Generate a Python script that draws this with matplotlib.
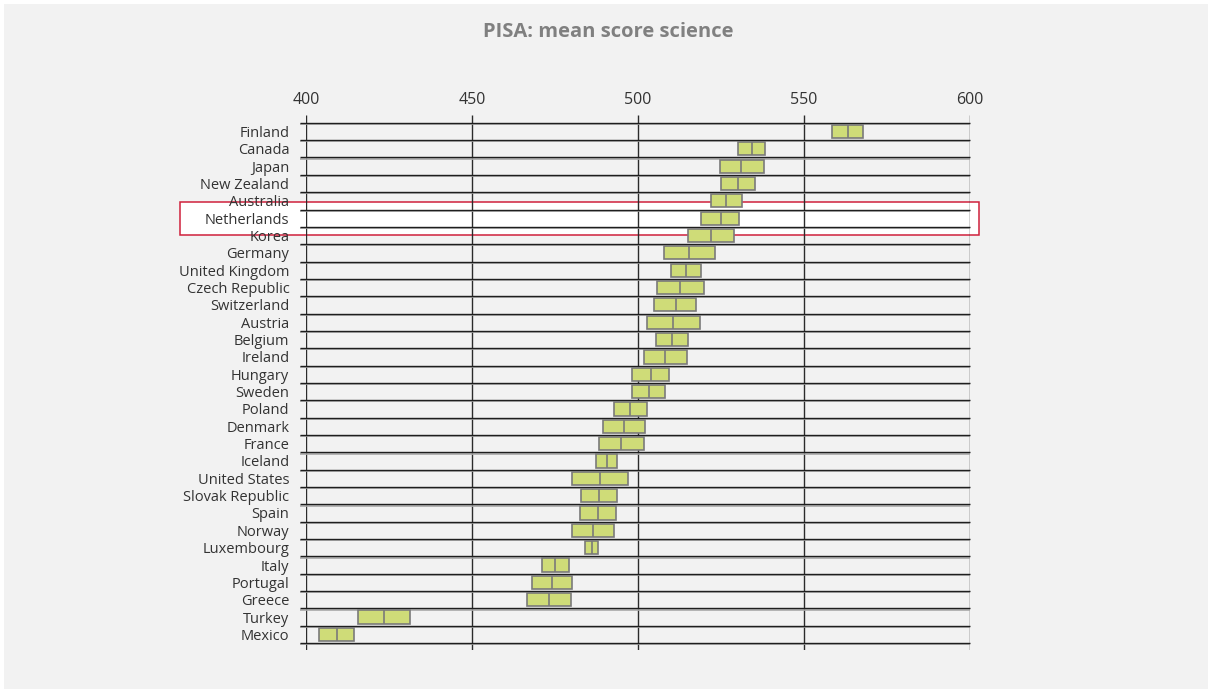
import matplotlib.pyplot as plt
from matplotlib.patches import Rectangle

COUNTRIES = [
    "Finland", "Canada", "Japan", "New Zealand", "Australia", "Netherlands",
    "Korea", "Germany", "United Kingdom", "Czech Republic", "Switzerland",
    "Austria", "Belgium", "Ireland", "Hungary", "Sweden", "Poland", "Denmark",
    "France", "Iceland", "United States", "Slovak Republic", "Spain", "Norway",
    "Luxembourg", "Italy", "Portugal", "Greece", "Turkey", "Mexico",
]
LOW = [558.5, 530.1, 524.6, 524.9, 522.0, 519.0, 515.2, 507.8, 510.0, 505.6,
       504.9, 502.7, 505.3, 501.8, 498.2, 498.2, 492.8, 489.6, 488.2, 487.2,
       480.2, 482.9, 482.6, 480.1, 483.9, 471.1, 468.1, 466.7, 415.8, 403.8]
MEAN = [563.3, 534.3, 531.1, 530.1, 526.6, 524.9, 521.9, 515.5, 514.5, 512.8,
        511.3, 510.4, 510.2, 508.1, 503.8, 503.2, 497.6, 495.9, 495.0, 490.6,
        488.5, 488.4, 488.0, 486.3, 486.0, 475.1, 474.0, 473.2, 423.6, 409.4]
HIGH = [567.9, 538.3, 538.0, 535.1, 531.3, 530.5, 528.9, 523.3, 519.1, 519.9,
        517.5, 518.7, 515.2, 514.7, 509.4, 508.1, 502.6, 502.2, 501.9, 493.6,
        497.1, 493.6, 493.3, 492.7, 487.9, 479.3, 480.1, 479.9, 431.4, 414.5]
TICKS = [400, 450, 500, 550, 600]
HIGHLIGHT = "Netherlands"

BG = "#f2f2f2"
BOX = "#cfdc78"
BOX_EDGE = "#7a7a7a"

plt.rcParams["font.family"] = ["Open Sans", "DejaVu Sans"]

fig = plt.figure(figsize=(12.12, 6.93), dpi=100)
fig.patch.set_facecolor("white")
fig.patches.append(Rectangle((4 / 1212, 4 / 693), 1204 / 1212, 685 / 693,
                             transform=fig.transFigure, facecolor=BG,
                             edgecolor="none", zorder=-10))

ax = fig.add_axes([306 / 1212, 1 - 650 / 693, 664 / 1212, 535 / 693])
ax.set_facecolor("none")
n = len(COUNTRIES)
ax.set_xlim(TICKS[0], TICKS[-1])
ax.set_ylim(n - 0.1, -0.95)
for s in ax.spines.values():
    s.set_visible(False)

# highlighted row
hi = COUNTRIES.index(HIGHLIGHT)
ax.add_patch(Rectangle((362.0, hi - 0.95), 602.7 - 362.0, 1.93,
                       facecolor="white", edgecolor="#d0213c", linewidth=1.1,
                       clip_on=False, zorder=1))

# grid
ax.vlines(TICKS, n - 0.1, -0.95, color="#2b2b2b", linewidth=1.0, zorder=2)
bounds = [i - 0.5 for i in range(n + 1)]
ax.hlines([b + 0.07 for b in bounds], 398.2, 600, color="#a8a8a8",
          linewidth=1.2, clip_on=False, zorder=2)
ax.hlines(bounds, 398.2, 600, color="#1e1e1e", linewidth=1.0,
          clip_on=False, zorder=3)

# boxes
ypos = list(range(n))
widths = [h - l for l, h in zip(LOW, HIGH)]
ax.barh(ypos, widths, left=LOW, height=0.76, color=BOX, edgecolor=BOX_EDGE,
        linewidth=1.2, zorder=4)
ax.vlines(MEAN, [y - 0.38 for y in ypos], [y + 0.38 for y in ypos],
          color=BOX_EDGE, linewidth=1.2, zorder=5)

ax.xaxis.tick_top()
ax.set_xticks(TICKS)
ax.set_xticklabels([str(t) for t in TICKS], fontsize=11.5, color="#333333")
ax.set_yticks(ypos)
ax.set_yticklabels(COUNTRIES, fontsize=10.5, color="#333333")
ax.tick_params(axis="both", length=0)
ax.tick_params(axis="x", pad=5)
ax.tick_params(axis="y", pad=12)

fig.text(608 / 1212, 1 - 32 / 693, "PISA: mean score science", ha="center",
         va="center", fontsize=14.5, fontweight="bold", color="#808080")

fig.savefig("out.png", dpi=100, facecolor=fig.get_facecolor())
